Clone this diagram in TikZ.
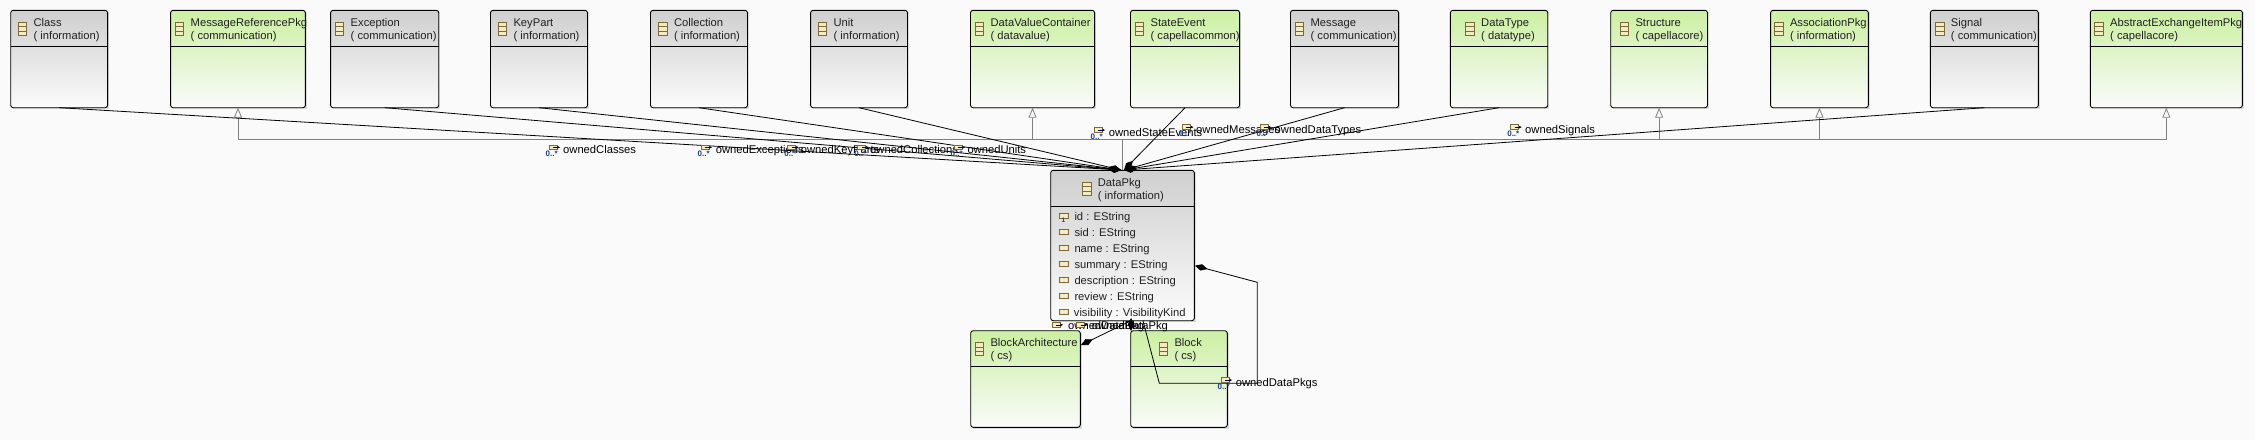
\documentclass[tikz,border=0pt]{standalone}
\usepackage{fontspec}
\setmainfont{Liberation Sans}
\usetikzlibrary{arrows.meta}
\definecolor{bgc}{HTML}{FAFAFA}
\definecolor{gtop}{HTML}{CFCFCF}
\definecolor{gmid}{HTML}{E6E6E6}
\definecolor{ntop}{HTML}{CBF0A2}
\definecolor{nmid}{HTML}{E4FAC9}
\definecolor{botc}{HTML}{FBFBFB}
\definecolor{iconb}{HTML}{7A6A3A}
\definecolor{iconf}{HTML}{F5EBC0}
\definecolor{multc}{HTML}{1F3F7F}
\definecolor{genc}{HTML}{808080}
\definecolor{txtc}{HTML}{202020}
\tikzset{
  umlbox/.style={draw=black,line width=0.9pt,rounded corners=2.5pt,inner sep=0pt,outer sep=0pt},
  gray box/.style={umlbox,top color=gtop,middle color=gmid,bottom color=botc},
  green box/.style={umlbox,top color=ntop,middle color=nmid,bottom color=botc},
  title/.style={font=\fontsize{11.2}{13}\selectfont,text=txtc,inner sep=0pt,anchor=base west},
  rolelabel/.style={font=\fontsize{11.2}{13}\selectfont,text=black,inner sep=0pt,anchor=base west},
  multlabel/.style={font=\fontsize{8}{8}\selectfont\bfseries,text=multc,inner sep=0pt},
  comp/.style={draw=black,line width=0.8pt,-{Diamond[length=13pt,width=6.5pt,fill=black]}},
  gen/.style={draw=genc,line width=0.8pt,-{Triangle[open,length=10pt,width=8pt,fill=bgc]}},
  genplain/.style={draw=genc,line width=0.8pt},
  iconbox/.style={draw=iconb,fill=iconf,line width=0.8pt},
}
\newcommand{\umlclass}[9]{%
  \pgfmathsetmacro{\cxa}{(#2+#3)/2}\pgfmathsetmacro{\cya}{(#4+#5)/2}%
  \pgfmathsetmacro{\cwa}{#3-#2}\pgfmathsetmacro{\cha}{#5-#4}%
  \fill[black!14] (#2+2,#4+2) rectangle (#3+1.4,#5+1.4);
  \node[#7,minimum width=\cwa pt,minimum height=\cha pt] (#1) at (\cxa,\cya) {};
  \draw[black,line width=0.9pt] (#2,#6) -- (#3,#6);
  \pgfmathsetmacro{\ixa}{#8-15.4}\pgfmathsetmacro{\iya}{#4+12}%
  \draw[iconbox] (\ixa,\iya) rectangle ++(8.6,13);
  \draw[iconb,line width=0.7pt] (\ixa,\iya+4.3) -- ++(8.6,0) (\ixa,\iya+8.7) -- ++(8.6,0);
  \node[title] (#1-a) at (#8,#4+16) {#9};
  \umlsub{#1}{#8}{#4}%
}
\newcommand{\umlsub}[3]{\node[title] (#1-b) at (#2,#3+28.7) {\umlsubtext};}
\newcommand{\rolelab}[5]{%
  \draw[iconbox] (#1+1,#3-4.5) rectangle ++(8,4.5);
  \draw[-{Stealth[length=3pt,width=3pt]},black!70!blue,line width=0.6pt] (#1+5,#3-2.2) -- ++(7,0);
  \node[multlabel,anchor=north west] (#4-m) at (#1-2.5,#3+1.2) {0..*};
  \node[rolelabel] (#4) at (#2,#3+4) {#5};
}
\newcommand{\attr}[3]{%
  \draw[iconbox] (1059.5,#2-2.6) rectangle ++(8.4,5);
  \node[title] (#3) at (#1,#2+4) {\attrtext};
}
\begin{document}
\begin{tikzpicture}[x=1pt,y=-1pt]
\useasboundingbox (0,0) rectangle (2255,440);
\fill[bgc] (0,0) rectangle (2255,440);
\coordinate (top) at (1122.3,170.3);
\coordinate (bus) at (1122.3,139.3);
\def\umlsubtext{( information)}\umlclass{Class}{10.7}{107.6}{10.3}{107.7}{46.3}{gray box}{33.4}{Class}
\def\umlsubtext{( communication)}\umlclass{MessageReferencePkg}{170.6}{305.4}{10.3}{107.7}{46.3}{green box}{190.5}{MessageReferencePkg}
\def\umlsubtext{( communication)}\umlclass{Exception}{330.6}{438.7}{10.3}{107.7}{46.3}{gray box}{350.5}{Exception}
\def\umlsubtext{( information)}\umlclass{KeyPart}{490.5}{587.5}{10.3}{107.7}{46.3}{gray box}{513.3}{KeyPart}
\def\umlsubtext{( information)}\umlclass{Collection}{650.5}{747.5}{10.3}{107.7}{46.3}{gray box}{673.8}{Collection}
\def\umlsubtext{( information)}\umlclass{Unit}{810.6}{907.5}{10.3}{107.7}{46.3}{gray box}{833.4}{Unit}
\def\umlsubtext{( datavalue)}\umlclass{DataValueContainer}{970.5}{1094.6}{10.3}{107.7}{46.3}{green box}{990.4}{DataValueContainer}
\def\umlsubtext{( capellacommon)}\umlclass{StateEvent}{1130.5}{1239.6}{10.3}{107.7}{46.3}{green box}{1150.4}{StateEvent}
\def\umlsubtext{( communication)}\umlclass{Message}{1290.5}{1398.6}{10.3}{107.7}{46.3}{gray box}{1310.4}{Message}
\def\umlsubtext{( datatype)}\umlclass{DataType}{1450.4}{1547.7}{10.3}{107.7}{46.3}{green box}{1481}{DataType}
\def\umlsubtext{( capellacore)}\umlclass{Structure}{1610.7}{1707.5}{10.3}{107.7}{46.3}{green box}{1635.3}{Structure}
\def\umlsubtext{( information)}\umlclass{AssociationPkg}{1770.6}{1868.3}{10.3}{107.7}{46.3}{green box}{1789.8}{AssociationPkg}
\def\umlsubtext{( communication)}\umlclass{Signal}{1930.4}{2038.3}{10.3}{107.7}{46.3}{gray box}{1950.7}{Signal}
\def\umlsubtext{( capellacore)}\umlclass{AbstractExchangeItemPkg}{2090.3}{2242.4}{10.3}{107.7}{46.3}{green box}{2110}{AbstractExchangeItemPkg}
\def\umlsubtext{( information)}\umlclass{DataPkg}{1050.7}{1194.3}{170.3}{320.7}{206.3}{gray box}{1097.7}{DataPkg}
\def\umlsubtext{( cs)}\umlclass{BlockArchitecture}{970.7}{1080.3}{330.7}{427.3}{366.3}{green box}{990.3}{BlockArchitecture}
\def\umlsubtext{( cs)}\umlclass{Block}{1130.7}{1227.3}{330.7}{427.3}{366.3}{green box}{1174.3}{Block}
\def\attrtext{id : EString}\attr{1074.3}{216}{a-id}
\node[multlabel,font=\fontsize{6.5}{7}\selectfont\bfseries] (a-id-m) at (1063.4,220.5) {1};
\def\attrtext{sid : EString}\attr{1074.3}{232}{a-sid}
\def\attrtext{name : EString}\attr{1074.3}{248}{a-name}
\def\attrtext{summary : EString}\attr{1074.3}{264}{a-summary}
\def\attrtext{description : EString}\attr{1074.3}{280}{a-description}
\def\attrtext{review : EString}\attr{1074.3}{296}{a-review}
\def\attrtext{visibility : VisibilityKind}\attr{1073.7}{312}{a-visibility}
\draw[genplain] (top) -- (bus);
\draw[gen] (bus) -| (MessageReferencePkg.south);
\draw[gen] (bus) -| (DataValueContainer.south);
\draw[gen] (bus) -| (Structure.south);
\draw[gen] (bus) -| (AssociationPkg.south);
\draw[gen] (bus) -| (AbstractExchangeItemPkg.south);
\coordinate (tipL) at (1121,170);
\coordinate (tipR) at (1124,170);
\draw[comp] (Class.south) -- (tipL);
\draw[comp] (Exception.south) -- (tipL);
\draw[comp] (KeyPart.south) -- (tipL);
\draw[comp] (Collection.south) -- (tipL);
\draw[comp] (Unit.south) -- (tipL);
\draw[comp] (StateEvent.south) -- (tipR);
\draw[comp] (Message.south) -- (tipR);
\draw[comp] (DataType.south) -- (tipR);
\draw[comp] (Signal.south) -- (tipR);
\coordinate (botA) at (1131,320.7);
\coordinate (baTip) at (1081,345);
\coordinate (blockTip) at (1131,331);
\coordinate (loopA) at (1143,320.7);
\coordinate (loopB) at (1159.3,383.3);
\coordinate (loopC) at (1257.3,383.3);
\coordinate (loopD) at (1257.3,282.3);
\coordinate (loopE) at (1195,265.7);
\draw[comp] (botA) -- (baTip);
\draw[comp] (botA) -- (blockTip);
\draw[comp] (loopA) -- (loopB) -- (loopC) -- (loopD) -- (loopE);
\rolelab{548}{563}{149.5}{r-classes}{ownedClasses}
\rolelab{700}{715.7}{149.5}{r-exceptions}{ownedExceptions}
\rolelab{786.7}{800.7}{149.5}{r-keyparts}{ownedKeyParts}
\rolelab{856.7}{870}{149.5}{r-collections}{ownedCollections}
\rolelab{953}{967.3}{149.5}{r-units}{ownedUnits}
\rolelab{1093}{1108.7}{132.3}{r-stateevents}{ownedStateEvents}
\rolelab{1181.4}{1196}{129.3}{r-messages}{ownedMessages}
\rolelab{1259}{1274.5}{129.3}{r-datatypes}{ownedDataTypes}
\rolelab{1509.6}{1525}{129.3}{r-signals}{ownedSignals}
\rolelab{1220}{1235.7}{382.3}{r-datapkgs}{ownedDataPkgs}
\node[rolelabel] (r-dp1) at (1068,329) {ownedDataPkg};
\draw[iconbox] (1052.3,322.5) rectangle ++(8,4.5);
\draw[-{Stealth[length=3pt,width=3pt]},black!70!blue,line width=0.6pt] (1056,324.8) -- ++(7,0);
\node[rolelabel] (r-dp2) at (1091.7,329) {ownedDataPkg};
\draw[iconbox] (1076.7,322.5) rectangle ++(8,4.5);
\draw[-{Stealth[length=3pt,width=3pt]},black!70!blue,line width=0.6pt] (1080.5,324.8) -- ++(7,0);
\end{tikzpicture}
\end{document}
